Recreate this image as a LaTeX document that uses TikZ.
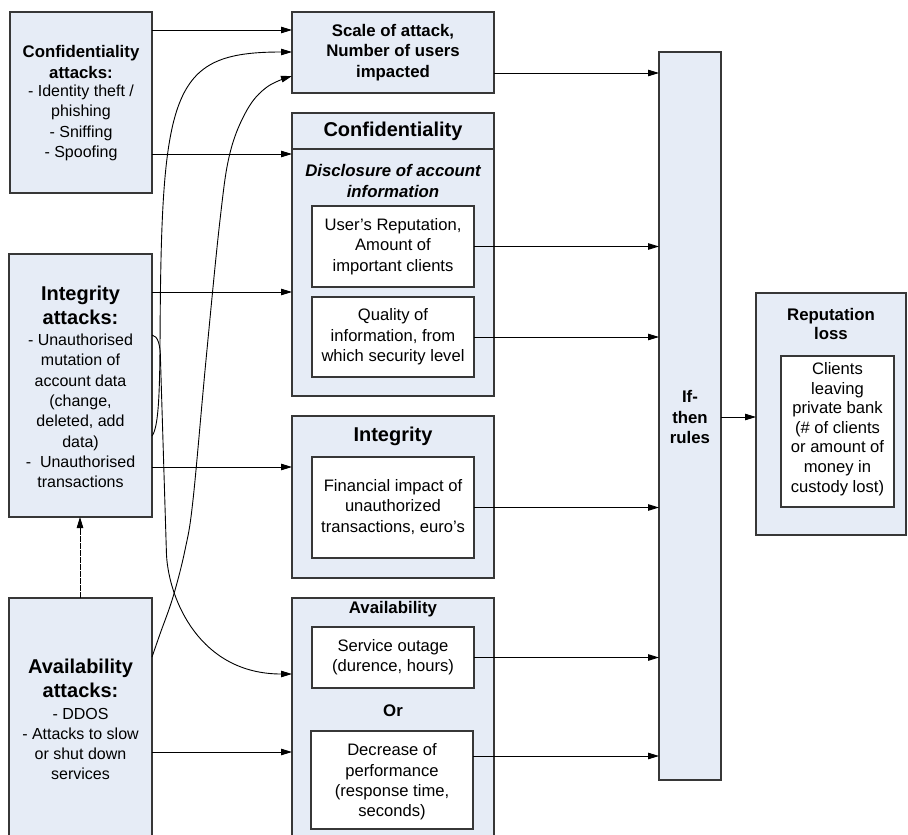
\documentclass[tikz,border=0pt]{standalone}
\usepackage{fontspec}
\setmainfont{Liberation Sans}
\usetikzlibrary{arrows.meta}

\definecolor{boxfill}{RGB}{230,236,246}
\definecolor{boxline}{RGB}{55,55,55}

% font sizes (1pt = 1 unit of the drawing)
\newcommand\xbody{\fontsize{16}{20.3}\selectfont}
\newcommand\xinner{\fontsize{16.6}{20.3}\selectfont}
\newcommand\xhead{\fontsize{16.8}{20.3}\selectfont\bfseries}
\newcommand\xbig{\fontsize{20}{24}\selectfont\bfseries}

\tikzset{
  panel/.style={draw=boxline, fill=boxfill, line width=1.3pt, inner sep=0pt, outer sep=0pt, anchor=north west},
  card/.style={draw=boxline, fill=white, line width=1.2pt, inner sep=0pt, outer sep=0pt, anchor=north west},
  txt/.style={align=center, inner sep=0pt, outer sep=0pt},
  arr/.style={line width=0.9pt, -{Triangle[length=11pt,width=6.5pt]}},
  dotarr/.style={arr, dash pattern=on 6pt off 1pt},
}

\begin{document}
\begin{tikzpicture}[x=1pt,y=-1pt]
\useasboundingbox (0,0) rectangle (908,835);
\clip (0,0) rectangle (908,835);

% ---------- attack sources ----------
\node[panel, minimum width=142, minimum height=181] (confatk) at (10,12) {};
\node[txt, font=\xhead] (confatkhead) at (81,62) {Confidentiality\\attacks:};
\node[txt, font=\xbody] (confatkbody) at (81,123) {- Identity theft /\\phishing\\- Sniffing\\- Spoofing};

\node[panel, minimum width=143, minimum height=263] (intatk) at (9,254) {};
\node[txt, font=\xbig] (intatkhead) at (80.5,305) {Integrity\\attacks:};
\node[txt, font=\xbody] (intatkbody) at (80.5,411) {- Unauthorised\\mutation of\\account data\\(change,\\deleted, add\\data)\\- \ Unauthorised\\transactions};

\node[panel, minimum width=143, minimum height=260] (availatk) at (9,598) {};
\node[txt, font=\xbig] (availatkhead) at (80.5,678.5) {Availability\\attacks:};
\node[txt, font=\xbody] (availatkbody) at (80.5,744) {- DDOS\\- Attacks to slow\\or shut down\\services};

% ---------- impact measures ----------
\node[panel, minimum width=202, minimum height=81] (scale) at (292,12) {};
\node[txt, font=\xhead] (scaletxt) at (393,52.5) {Scale of attack,\\Number of users\\impacted};

\node[panel, minimum width=202, minimum height=283] (conf) at (292,113) {};
\draw[draw=boxline, line width=1.2pt] (conf.west |- 0,149) -- (conf.east |- 0,149);
\node[txt, font=\xbig] (conftitle) at (393,131) {Confidentiality};
\node[txt, font=\xhead\itshape] (confsub) at (393,181) {Disclosure of account\\information};
\node[card, minimum width=162, minimum height=81] (userrep) at (312,206) {};
\node[txt, font=\xinner] (userreptxt) at (userrep.center) {User's Reputation,\\Amount of\\important clients};
\node[card, minimum width=162, minimum height=80] (quality) at (312,297) {};
\node[txt, font=\xinner] (qualitytxt) at (quality.center) {Quality of\\information, from\\which security level};

\node[panel, minimum width=202, minimum height=162] (integ) at (292,416) {};
\node[txt, font=\xbig] (integtitle) at (393,436) {Integrity};
\node[card, minimum width=162, minimum height=101] (fin) at (312,457) {};
\node[txt, font=\xinner] (fintxt) at (393,507) {Financial impact of\\unauthorized\\transactions, euro's};

\node[panel, minimum width=202, minimum height=260] (avail) at (292,598) {};
\node[txt, font=\xhead] (availtitle) at (393,609) {Availability};
\node[card, minimum width=162, minimum height=61] (service) at (312,627) {};
\node[txt, font=\xinner] (servicetxt) at (service.center) {Service outage\\(durence, hours)};
\node[txt, font=\xhead] (ortxt) at (393,711) {Or};
\node[card, minimum width=162, minimum height=98] (decrease) at (311,731) {};
\node[txt, font=\xinner] (decreasetxt) at (392,782) {Decrease of\\performance\\(response time,\\seconds)};

% ---------- rules and outcome ----------
\node[panel, minimum width=62, minimum height=728] (ifthen) at (659,52) {};
\node[txt, font=\xhead, text width=60] (ifthentxt) at (690,417) {If-\\then\\rules};

\node[panel, minimum width=150, minimum height=242] (rep) at (756,293) {};
\node[txt, font=\fontsize{16.8}{19}\selectfont\bfseries] (reptitle) at (831,323.5) {Reputation\\loss};
\node[card, minimum width=113, minimum height=151] (clients) at (781,356) {};
\node[txt, font=\fontsize{16.6}{19.6}\selectfont] (clientstxt) at (837.5,429) {Clients\\leaving\\private bank\\(\# of clients\\or amount of\\money in\\custody lost)};

% ---------- straight connectors ----------
\coordinate (dashx) at (80,0);
\draw[arr] (confatk.east |- 0,30) -- (scale.west |- 0,30);
\draw[arr] (confatk.east |- 0,154) -- (conf.west |- 0,154);
\draw[arr] (intatk.east |- 0,292) -- (conf.west |- 0,292);
\draw[arr] (intatk.east |- 0,467) -- (integ.west |- 0,467);
\draw[arr] (availatk.east |- 0,752) -- (avail.west |- 0,752);
\draw[dotarr] (availatk.north -| dashx) -- (intatk.south -| dashx);

\draw[arr] (scale.east |- 0,73) -- (ifthen.west |- 0,73);
\draw[arr] (userrep.east) -- (ifthen.west |- userrep.east);
\draw[arr] (quality.east) -- (ifthen.west |- quality.east);
\draw[arr] (fin.east) -- (ifthen.west |- fin.east);
\draw[arr] (service.east) -- (ifthen.west |- service.east);
\draw[arr] (decrease.east |- 0,756) -- (ifthen.west |- 0,756);
\draw[arr] (ifthen.east |- 0,417) -- (rep.west |- 0,417);

% ---------- curved connectors ----------
\draw[arr] (intatk.east |- 0,436) .. controls (158,428) and (159.5,400) .. (160,350)
  .. controls (161,90) and (170,52) .. (scale.west |- 0,52);
\draw[arr] (intatk.east |- 0,335) .. controls (158,336) and (160.5,345) .. (160.5,360)
  -- (166.5,555) .. controls (169,600) and (200,674) .. (avail.west |- 0,674);
\draw[arr] plot[smooth, tension=0.6] coordinates {(availatk.east |- 0,657) (160,634) (173,597) (185,550) (193,500) (206,360) (220,220) (230,153) (247,110) (267,87) (scale.west |- 0,76)};
\end{tikzpicture}
\end{document}
